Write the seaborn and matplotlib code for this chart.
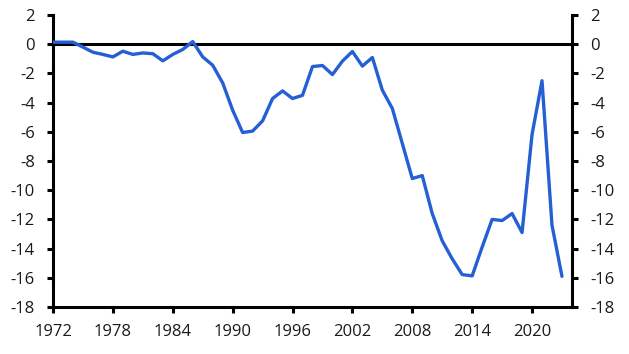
import matplotlib
matplotlib.use("Agg")
import matplotlib.pyplot as plt
import seaborn as sns
import pandas as pd

years = list(range(1972, 2024))
values = [0.14, 0.14, 0.14, -0.2, -0.55, -0.7, -0.87, -0.48, -0.7, -0.6,
          -0.65, -1.14, -0.7, -0.36, 0.18, -0.87, -1.44, -2.65, -4.52, -6.05,
          -5.95, -5.25, -3.72, -3.2, -3.72, -3.5, -1.53, -1.46, -2.08, -1.16,
          -0.5, -1.5, -0.91, -3.15, -4.4, -6.8, -9.2, -9.0, -11.6, -13.47,
          -14.7, -15.78, -15.87, -13.9, -12.0, -12.08, -11.6, -12.9, -6.19, -2.5,
          -12.4, -15.9]
xticks = [1972, 1978, 1984, 1990, 1996, 2002, 2008, 2014, 2020]
yticks = [2, 0, -2, -4, -6, -8, -10, -12, -14, -16, -18]

df = pd.DataFrame({"year": years, "value": values})

sns.set_style("white")
plt.rcParams["font.family"] = ["Open Sans", "DejaVu Sans"]
plt.rcParams["axes.unicode_minus"] = False

fig = plt.figure(figsize=(6.29, 3.54), dpi=100)
ax = fig.add_axes([0.0843, 0.1328, 0.9093 - 0.0843, 0.9576 - 0.1328])
ax.axhline(0, color="black", lw=2.2, zorder=1)
sns.lineplot(data=df, x="year", y="value", ax=ax, color="#2460d4", lw=2.4, zorder=3)

ax.set_xlim(1972, 2024)
ax.set_ylim(-18, 2)
ax.set_xticks(xticks)
ax.set_yticks(yticks)
ax.set_xlabel("")
ax.set_ylabel("")
for s in ["left", "right", "bottom"]:
    ax.spines[s].set_visible(True)
    ax.spines[s].set_color("black")
    ax.spines[s].set_linewidth(2.2)
ax.spines["top"].set_visible(False)
ax.tick_params(axis="both", direction="out", length=4, width=2.2, color="black",
               labelsize=12, labelcolor="#1a1a1a")
ax.tick_params(axis="y", left=True, right=True, labelleft=True, labelright=True, pad=9)
ax.tick_params(axis="x", bottom=True, pad=8)
fig.savefig("out.png", dpi=100)
